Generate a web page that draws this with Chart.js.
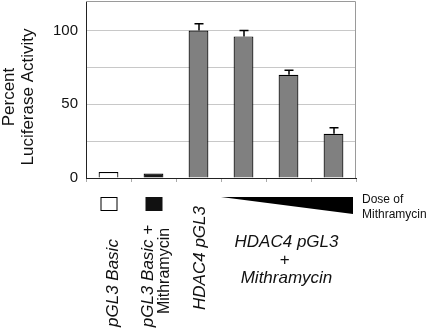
<!DOCTYPE html>
<html>
<head>
<meta charset="utf-8">
<script src="https://cdn.jsdelivr.net/npm/chart.js@4.4.1/dist/chart.umd.min.js"></script>
<style>
  html, body { margin: 0; padding: 0; background: #fff; }
</style>
</head>
<body>
<canvas id="chart" width="429" height="330"></canvas>
<script>
// data
const categories = [
  "pGL3 Basic",
  "pGL3 Basic + Mithramycin",
  "HDAC4 pGL3",
  "HDAC4 pGL3 + Mithramycin (low)",
  "HDAC4 pGL3 + Mithramycin (mid)",
  "HDAC4 pGL3 + Mithramycin (high)"
];
const activity = [4, 3, 100, 96, 70, 30];
const errorUp = [0, 0, 4.5, 4, 3, 4];
const yTickLabels = [0, 50, 100];

const FONT = "'Liberation Sans', Arial, sans-serif";

// vertical text helper (reads bottom to top)
function vText(ctx, str, cx, cy, align) {
  ctx.save();
  ctx.translate(cx, cy);
  ctx.rotate(-Math.PI / 2);
  ctx.textAlign = align;
  ctx.textBaseline = "middle";
  ctx.fillText(str, 0, 0);
  ctx.restore();
}

const extras = {
  id: "extras",
  afterDatasetsDraw(chart) {
    const { ctx, chartArea: a, scales: { x, y } } = chart;
    ctx.save();
    // grey frame top + right
    ctx.strokeStyle = "#9a9a9a";
    ctx.lineWidth = 1;
    ctx.beginPath();
    ctx.moveTo(a.left, a.top + 0.5);
    ctx.lineTo(a.right - 0.5, a.top + 0.5);
    ctx.lineTo(a.right - 0.5, a.bottom);
    ctx.stroke();

    // error bars, upper half only
    ctx.strokeStyle = "#000";
    ctx.lineWidth = 1.5;
    activity.forEach((v, i) => {
      if (!errorUp[i]) return;
      const cx = Math.round(x.getPixelForValue(i));
      const y0 = y.getPixelForValue(v);
      const y1 = y.getPixelForValue(v + errorUp[i]);
      ctx.beginPath();
      ctx.moveTo(cx, y0);
      ctx.lineTo(cx, y1);
      ctx.moveTo(cx - 4.5, y1);
      ctx.lineTo(cx + 4.5, y1);
      ctx.stroke();
    });
    ctx.restore();
  },
  afterDraw(chart) {
    const { ctx, chartArea: a, scales: { x } } = chart;
    ctx.save();
    ctx.fillStyle = "#111";

    // y axis title
    ctx.font = "17px " + FONT;
    ctx.textBaseline = "alphabetic";
    [["Percent", 13.5], ["Luciferase Activity", 33]].forEach(([t, bx]) => {
      ctx.save();
      ctx.translate(bx, 97);
      ctx.rotate(-Math.PI / 2);
      ctx.textAlign = "center";
      ctx.fillText(t, 0, 0);
      ctx.restore();
    });

    // legend squares under first two bars
    const c0 = x.getPixelForValue(0), c1 = x.getPixelForValue(1);
    ctx.lineWidth = 1;
    ctx.strokeStyle = "#000";
    ctx.fillStyle = "#fff";
    ctx.fillRect(c0 - 8, 197, 17, 14);
    ctx.strokeRect(c0 - 7.5, 197.5, 16, 13);
    ctx.fillStyle = "#111";
    ctx.fillRect(c1 - 8, 197, 17, 14);

    // rotated labels
    ctx.fillStyle = "#111";
    ctx.font = "italic 17px " + FONT;
    vText(ctx, "pGL3 Basic", c0 + 4.5, 327, "left");
    vText(ctx, "pGL3 Basic +", c1 - 5.5, 276, "center");
    ctx.font = "16px " + FONT;
    vText(ctx, "Mithramycin", c1 + 11.5, 271, "center");
    ctx.font = "italic 17px " + FONT;
    vText(ctx, "HDAC4 pGL3", x.getPixelForValue(2) + 1.5, 258, "center");

    // dose wedge
    const left = x.getPixelForValue(2.5), right = a.right - 3;
    ctx.fillStyle = "#000";
    ctx.beginPath();
    ctx.moveTo(left, 197);
    ctx.lineTo(right, 197);
    ctx.lineTo(right, 214);
    ctx.closePath();
    ctx.fill();

    ctx.fillStyle = "#111";
    ctx.font = "12px " + FONT;
    ctx.textAlign = "left";
    ctx.textBaseline = "middle";
    ctx.fillText("Dose of", right + 9, 200);
    ctx.fillText("Mithramycin", right + 9, 215);

    // group label
    const gx = x.getPixelForValue(4) - 2;
    ctx.font = "italic 17px " + FONT;
    ctx.textAlign = "center";
    ctx.fillText("HDAC4 pGL3", gx, 242);
    ctx.fillText("+", gx - 2, 260);
    ctx.fillText("Mithramycin", gx, 278);
    ctx.restore();
  }
};

new Chart(document.getElementById("chart"), {
  type: "bar",
  data: {
    labels: categories,
    datasets: [{
      data: activity,
      backgroundColor: ["#ffffff", "#1a1a1a", "#808080", "#808080", "#808080", "#808080"],
      borderColor: "#000",
      borderWidth: 1.2,
      barPercentage: 0.44,
      categoryPercentage: 1
    }]
  },
  options: {
    responsive: false,
    animation: false,
    layout: { padding: { left: 0, top: 1, right: 73, bottom: 152 } },
    plugins: { legend: { display: false }, tooltip: { enabled: false } },
    scales: {
      x: {
        afterFit(s) { s.height = 0; s.paddingLeft = 0; s.paddingRight = 0; },
        ticks: { display: false },
        grid: { drawOnChartArea: false, drawTicks: true, tickLength: 4, color: "#aaa" },
        border: { color: "#222", width: 1 }
      },
      y: {
        min: 0,
        max: 120,
        afterFit(s) { s.width = 86; s.paddingTop = 0; s.paddingBottom = 0; },
        ticks: {
          stepSize: 25,
          padding: 8,
          color: "#111",
          font: { family: FONT, size: 15 },
          callback: v => yTickLabels.includes(v) ? String(v) : ""
        },
        grid: {
          drawTicks: false,
          color: ctx => (ctx.tick && (ctx.tick.value === 0 || ctx.tick.value === 120)) ? "rgba(0,0,0,0)" : "#c8c8c8"
        },
        border: { color: "#222", width: 1 }
      }
    }
  },
  plugins: [extras]
});
</script>
</body>
</html>
